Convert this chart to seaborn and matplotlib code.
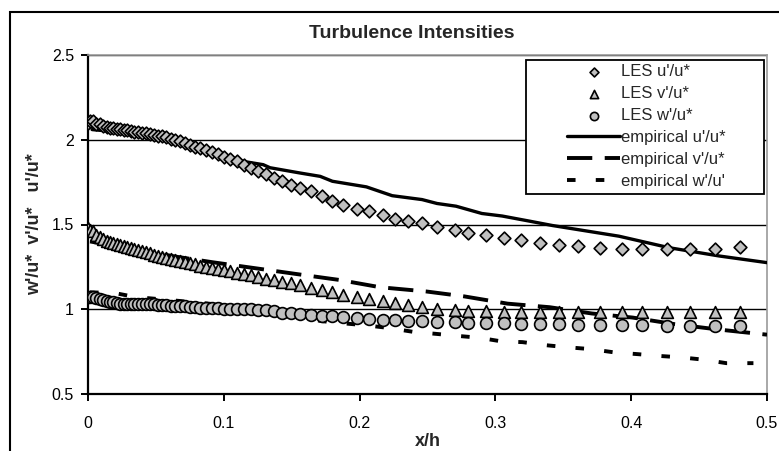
import matplotlib
matplotlib.use("Agg")
import matplotlib.pyplot as plt
from matplotlib.patches import Rectangle
import seaborn as sns
import numpy as np
import pandas as pd

# ---------------- data ----------------
les_x = [0.0, 0.0015, 0.0037, 0.0059, 0.0088, 0.011, 0.014, 0.0162, 0.0184, 0.0213,
         0.0235, 0.0265, 0.0287, 0.0316, 0.0338, 0.0368, 0.0397, 0.0426, 0.0456, 0.0485,
         0.0515, 0.0544, 0.0574, 0.061, 0.064, 0.0676, 0.0713, 0.075, 0.0787, 0.0824,
         0.0868, 0.0912, 0.0956, 0.1, 0.1044, 0.1096, 0.1147, 0.1199, 0.125, 0.1309,
         0.1368, 0.1426, 0.1493, 0.1559, 0.164, 0.172, 0.180, 0.188, 0.198, 0.207,
         0.217, 0.226, 0.236, 0.246, 0.257, 0.270, 0.280, 0.293, 0.306, 0.319,
         0.333, 0.347, 0.361, 0.377, 0.393, 0.408, 0.426, 0.443, 0.462, 0.480]

les_u = [2.10, 2.11, 2.11, 2.09, 2.09, 2.08, 2.075, 2.07, 2.068, 2.065,
         2.063, 2.06, 2.055, 2.05, 2.048, 2.045, 2.04, 2.038, 2.035, 2.03,
         2.025, 2.02, 2.015, 2.005, 1.998, 1.99, 1.978, 1.97, 1.96, 1.95,
         1.94, 1.928, 1.918, 1.90, 1.886, 1.872, 1.852, 1.835, 1.816, 1.795,
         1.772, 1.755, 1.735, 1.716, 1.696, 1.67, 1.64, 1.614, 1.594, 1.582,
         1.555, 1.535, 1.52, 1.506, 1.486, 1.47, 1.451, 1.437, 1.42, 1.41,
         1.39, 1.378, 1.372, 1.363, 1.357, 1.353, 1.353, 1.353, 1.357, 1.367]

les_v = [1.48, 1.47, 1.46, 1.44, 1.425, 1.415, 1.405, 1.398, 1.392, 1.385,
         1.378, 1.372, 1.368, 1.36, 1.355, 1.348, 1.342, 1.336, 1.33, 1.322,
         1.315, 1.308, 1.302, 1.297, 1.292, 1.285, 1.278, 1.27, 1.265, 1.256,
         1.25, 1.245, 1.24, 1.234, 1.225, 1.216, 1.21, 1.202, 1.192, 1.18,
         1.172, 1.163, 1.153, 1.141, 1.128, 1.112, 1.10, 1.082, 1.07, 1.06,
         1.05, 1.038, 1.025, 1.012, 1.003, 0.995, 0.99, 0.987, 0.985, 0.985,
         0.985, 0.985, 0.985, 0.985, 0.985, 0.985, 0.985, 0.985, 0.985, 0.985]

les_w = [1.075, 1.075, 1.07, 1.065, 1.06, 1.055, 1.05, 1.045, 1.042, 1.038,
         1.033, 1.03, 1.03, 1.03, 1.03, 1.029, 1.029, 1.029, 1.029, 1.029,
         1.028, 1.028, 1.025, 1.022, 1.02, 1.018, 1.017, 1.016, 1.013, 1.01,
         1.009, 1.007, 1.005, 1.004, 1.004, 1.003, 1.0, 0.999, 0.997, 0.994,
         0.987, 0.98, 0.975, 0.97, 0.965, 0.96, 0.96, 0.952, 0.949, 0.945,
         0.938, 0.936, 0.932, 0.93, 0.924, 0.922, 0.92, 0.918, 0.917, 0.915,
         0.913, 0.912, 0.91, 0.908, 0.906, 0.905, 0.903, 0.902, 0.902, 0.902]

emp_u_x = [0.003, 0.03, 0.06, 0.09, 0.107, 0.129, 0.134, 0.156, 0.171, 0.18, 0.205,
           0.224, 0.246, 0.257, 0.271, 0.29, 0.305, 0.325, 0.342, 0.391, 0.428, 0.465, 0.5]
emp_u = [2.06, 2.04, 2.00, 1.93, 1.882, 1.853, 1.835, 1.804, 1.784, 1.755, 1.722,
         1.67, 1.647, 1.624, 1.608, 1.565, 1.55, 1.52, 1.494, 1.431, 1.363, 1.314, 1.275]

emp_v_x = [0.0015, 0.065, 0.092, 0.125, 0.156, 0.185, 0.215, 0.249, 0.277, 0.309,
           0.34, 0.371, 0.401, 0.432, 0.4625, 0.5]
emp_v = [1.40, 1.31, 1.277, 1.24, 1.205, 1.173, 1.13, 1.105, 1.076, 1.033,
         1.012, 0.975, 0.951, 0.912, 0.882, 0.85]

emp_w_x = [0.0015, 0.02, 0.035, 0.08, 0.13, 0.155, 0.172, 0.188, 0.205, 0.221,
           0.24, 0.256, 0.272, 0.288, 0.304, 0.32, 0.337, 0.354, 0.37, 0.388,
           0.405, 0.42, 0.437, 0.454, 0.47, 0.49]
emp_w = [1.10, 1.095, 1.072, 1.04, 1.0, 0.955, 0.93, 0.917, 0.905, 0.89,
         0.866, 0.855, 0.843, 0.832, 0.811, 0.806, 0.788, 0.775, 0.765, 0.745,
         0.735, 0.725, 0.716, 0.702, 0.682, 0.682]

labels = ["LES u'/u*", "LES v'/u*", "LES w'/u*",
          "empirical u'/u*", "empirical v'/u*", "empirical w'/u'"]
x_ticks = [0, 0.1, 0.2, 0.3, 0.4, 0.5]
y_ticks = [0.5, 1, 1.5, 2, 2.5]

# ---------------- style ----------------
sns.set_theme(style="white")
plt.rcParams["font.family"] = ["Liberation Sans", "DejaVu Sans"]

W, H = 779, 451
fig = plt.figure(figsize=(W / 100, H / 100), dpi=100)
L, R, T, B = 88, 767, 55, 394
ax = fig.add_axes([L / W, 1 - B / H, (R - L) / W, (B - T) / H])

grey = "#C0C0C0"
ekw = dict(edgecolor="black", linewidth=1.2, color=grey, zorder=5)

sns.scatterplot(x=les_x, y=les_u, marker="D", s=42, label=labels[0], ax=ax, **ekw)
sns.scatterplot(x=les_x, y=les_v, marker="^", s=72, label=labels[1], ax=ax, **ekw)
sns.scatterplot(x=les_x, y=les_w, marker="o", s=72, label=labels[2], ax=ax, **ekw)

sns.lineplot(x=emp_u_x, y=emp_u, sort=False, estimator=None, color="black",
             linewidth=2.4, label=labels[3], ax=ax, zorder=4)
sns.lineplot(x=emp_v_x, y=emp_v, sort=False, estimator=None, color="black",
             linewidth=2.8, linestyle=(0, (6.5, 3.2)), label=labels[4], ax=ax, zorder=4)
sns.lineplot(x=emp_w_x, y=emp_w, sort=False, estimator=None, color="black",
             linewidth=2.8, linestyle=(0, (2.2, 5.2)), label=labels[5], ax=ax, zorder=4)

ax.set_xlim(0, 0.5)
ax.set_ylim(0.5, 2.5)
ax.set_xticks(x_ticks)
ax.set_xticklabels(["0", "0.1", "0.2", "0.3", "0.4", "0.5"])
ax.set_yticks(y_ticks)
ax.set_yticklabels(["0.5", "1", "1.5", "2", "2.5"])
for yv in y_ticks[1:]:
    ax.axhline(yv, color="black", linewidth=1.0, zorder=1)

for side in ["left", "bottom"]:
    ax.spines[side].set_color("black")
    ax.spines[side].set_linewidth(1.6)
for side in ["right", "top"]:
    ax.spines[side].set_color("#9A9A9A")
    ax.spines[side].set_linewidth(1.2)
ax.tick_params(axis="both", direction="out", length=5, width=1.4, color="black",
               labelsize=11.5, pad=5, labelcolor="black")
ax.tick_params(axis="x", pad=11)
ax.tick_params(left=True, bottom=True)

ax.set_xlabel("x/h", fontsize=13, fontweight="bold", labelpad=1)
ax.set_ylabel("w'/u*  v'/u*   u'/u*", fontsize=13, fontweight="bold", labelpad=6)
fig.text(412 / W, 1 - 34 / H, "Turbulence Intensities", ha="center", va="center",
         fontsize=14, fontweight="bold")

# legend
handles, labs = ax.get_legend_handles_labels()
leg = ax.legend(handles, labs, loc="upper left",
                bbox_to_anchor=((567 - L) / (R - L), (B - 64) / (B - T)),
                frameon=False, fontsize=12, handlelength=3.2, handletextpad=0.05,
                labelspacing=0.42, borderpad=0.0, borderaxespad=0.0, markerscale=0.7)
ax.add_patch(Rectangle(((526 - L) / (R - L), (B - 194) / (B - T)),
                       (764 - 526) / (R - L), (194 - 60) / (B - T),
                       transform=ax.transAxes, facecolor="white", edgecolor="black",
                       linewidth=1.3, zorder=6))
leg.set_zorder(7)

# outer chart frame
fig.patches.append(Rectangle((10 / W, -0.2), 1.5, 1 - 12 / H + 0.2,
                             transform=fig.transFigure, fill=False,
                             edgecolor="black", linewidth=1.5))

fig.savefig("out.png", dpi=100)
